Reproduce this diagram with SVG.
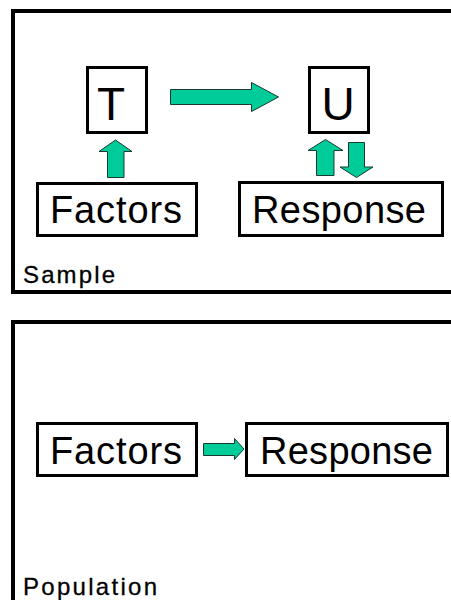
<svg xmlns="http://www.w3.org/2000/svg" width="451" height="600" viewBox="0 0 451 600">
<style>
.frame{fill:none;stroke:#000;stroke-width:4}
.box{fill:#fff;stroke:#000;stroke-width:3}
.arr{fill:#00CC99;stroke:#1a3a30;stroke-width:1}
text{font-family:"Liberation Sans",Arial,sans-serif;fill:#000}
.big{font-size:46px;text-anchor:middle}
.lbl{font-size:38px}
.cap{font-size:24px;stroke:#000;stroke-width:0.3}
</style>
<rect width="451" height="600" fill="#fff"/>
<g id="sample-frame">
<path class="frame" d="M460 11 H13 V292 H460"/>
<text class="cap" x="23" y="283" textLength="92" lengthAdjust="spacing">Sample</text>
</g>
<g id="population-frame">
<path class="frame" d="M460 322 H13 V610"/>
<text class="cap" x="23" y="595" textLength="134" lengthAdjust="spacing">Population</text>
</g>
<g id="T">
<rect class="box" x="87.5" y="67.5" width="59" height="65"/>
<text class="big" x="111" y="120">T</text>
</g>
<g id="U">
<rect class="box" x="309.5" y="67.5" width="59" height="65"/>
<text class="big" x="338" y="120">U</text>
</g>
<g id="factors-sample">
<rect class="box" x="37.5" y="183.5" width="159" height="52"/>
<text class="lbl" x="50" y="223" textLength="132" lengthAdjust="spacing">Factors</text>
</g>
<g id="response-sample">
<rect class="box" x="239.5" y="182.5" width="203" height="53"/>
<text class="lbl" x="252" y="223" textLength="174" lengthAdjust="spacing">Response</text>
</g>
<g id="factors-population">
<rect class="box" x="37.5" y="423.5" width="159" height="52"/>
<text class="lbl" x="50" y="464" textLength="132" lengthAdjust="spacing">Factors</text>
</g>
<g id="response-population">
<rect class="box" x="246.5" y="423.5" width="201" height="52"/>
<text class="lbl" x="260" y="464" textLength="173" lengthAdjust="spacing">Response</text>
</g>
<g id="connectors">
<path class="arr" d="M170.5 89.5 H251.5 V82.5 L278.5 97 L251.5 111.5 V104.5 H170.5 Z"/>
<path class="arr" d="M107.5 177.5 V151.5 H99 L115.5 140 L132 151.5 H124 V177.5 Z"/>
<path class="arr" d="M316.5 175.5 V150.5 H308 L325.5 139.5 L343 150.5 H334 V175.5 Z"/>
<path class="arr" d="M348.5 142.5 H364.5 V167 H373 L356.5 177.5 L340 167 H348.5 Z"/>
<path class="arr" d="M203.5 443.5 H234.5 V438.5 L244 449 L234.5 459.5 V455.5 H203.5 Z"/>
</g>
</svg>
